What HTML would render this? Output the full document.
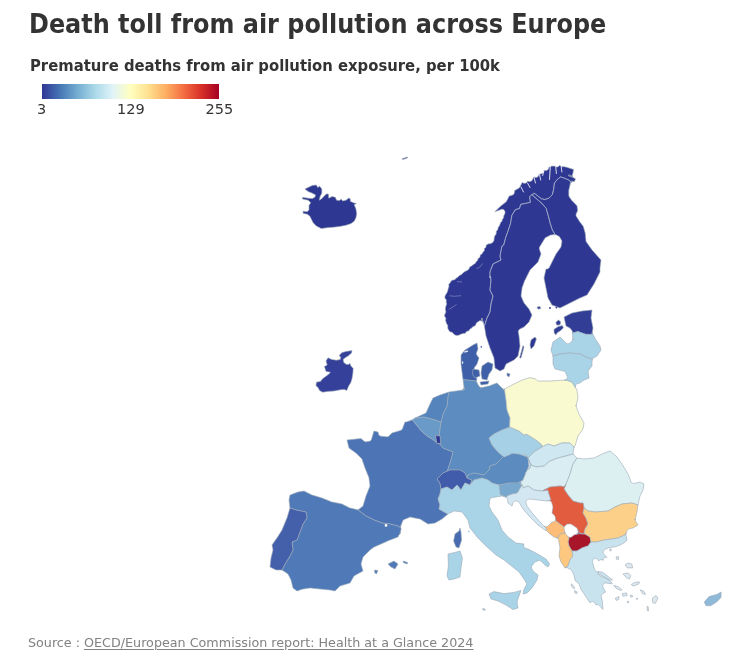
<!DOCTYPE html>
<html lang="en">
<head>
<meta charset="utf-8">
<title>Death toll from air pollution across Europe</title>
<style>
html,body{margin:0;padding:0;background:#fff;}
body{width:730px;height:662px;position:relative;overflow:hidden;font-family:"Liberation Sans","DejaVu Sans",sans-serif;}
.t{position:absolute;white-space:nowrap;line-height:1;transform-origin:0 0;}
#title{left:29px;top:11px;font-size:26px;font-weight:700;color:#333;font-family:"DejaVu Sans","Liberation Sans",sans-serif;transform:scaleX(0.921);}
#sub{left:29.5px;top:58px;font-size:16px;font-weight:700;color:#333;font-family:"DejaVu Sans","Liberation Sans",sans-serif;transform:scaleX(0.927);}
#bar{position:absolute;left:41.5px;top:83.5px;width:177.5px;height:15px;background:linear-gradient(90deg,#313695 0%,#4575b4 10%,#74add1 20%,#abd9e9 30%,#e0f3f8 40%,#ffffbf 50%,#fee090 60%,#fdae61 70%,#f46d43 80%,#d73027 90%,#a50026 100%);}
.lab{font-size:14.5px;color:#333;top:102px;font-family:"DejaVu Sans","Liberation Sans",sans-serif;}
#src{left:28px;top:637px;font-size:12.72px;color:#828282;font-family:"DejaVu Sans","Liberation Sans",sans-serif;}
#src .lnk{color:#828282;text-decoration:underline;text-underline-offset:1.5px;}
#map{position:absolute;left:0;top:0;}
</style>
</head>
<body>
<div id="title" class="t">Death toll from air pollution across Europe</div>
<div id="sub" class="t">Premature deaths from air pollution exposure, per 100k</div>
<div id="bar"></div>
<div id="l1" class="t lab" style="left:37px">3</div>
<div id="l2" class="t lab" style="left:117px">129</div>
<div id="l3" class="t lab" style="left:205.5px">255</div>
<svg id="map" width="730" height="662" viewBox="0 0 730 662">
<!--MAP-->
<defs><filter id="soft" x="-5%" y="-5%" width="110%" height="110%"><feGaussianBlur stdDeviation="0.7"/></filter></defs>
<g filter="url(#soft)" fill-rule="evenodd" stroke="#9daab8" stroke-opacity="0.6" stroke-width="1" stroke-linejoin="round">
<path d="M304.9 189.1L309.0 187.1L312.3 185.4L316.4 185.0L317.7 187.5L319.7 186.2L321.8 189.1L321.8 193.2L320.1 196.5L319.3 200.2L321.4 199.0L323.8 196.5L326.3 194.0L328.4 194.0L328.8 198.2L332.1 196.5L335.3 197.3L336.6 200.2L339.5 200.6L341.1 199.0L342.7 201.0L346.0 200.2L348.5 198.2L350.1 198.6L350.5 201.4L353.4 202.7L356.3 203.5L354.2 204.7L355.9 208.8L356.7 213.8L355.9 217.9L354.2 221.2L351.0 223.6L346.0 225.3L339.5 226.5L332.9 227.3L327.1 227.7L321.4 228.6L316.4 226.1L313.2 222.8L311.5 219.5L309.9 216.2L307.4 214.2L303.3 213.4L302.9 211.3L307.4 211.7L309.0 209.7L309.0 205.5L310.7 202.7L308.2 200.2L302.5 199.0L302.5 197.3L308.2 198.2L312.3 198.6L314.8 197.3L315.6 194.9L312.3 193.2L308.2 191.6Z" fill="#2f3892"/>
<path d="M402.2 158.8L407.4 156.9L407.4 158.0L402.6 159.6Z" fill="#2f3892"/>
<path d="M339.2 355.4L342.0 352.6L346.0 351.4L352.0 350.6L351.6 353.0L348.4 355.8L345.2 357.8L343.2 359.2L343.6 362.2L346.0 364.2L348.4 364.6L350.0 363.4L350.8 365.8L353.2 368.6L352.8 373.8L352.0 378.6L350.8 382.6L348.4 386.6L346.8 390.6L344.4 389.4L340.4 389.8L334.0 391.0L327.6 391.4L322.8 392.2L319.6 390.6L318.0 387.4L316.0 385.8L316.4 382.2L320.4 381.4L322.8 378.6L326.0 376.2L329.2 373.8L330.4 372.2L326.0 371.4L324.4 366.6L327.2 365.0L326.0 361.0L328.0 357.8L331.6 359.4L336.4 360.2L340.2 359.6L340.8 357.4Z" fill="#343f9a"/>
<path d="M468.8 269.1L468.2 269.7L468.0 269.9L467.8 270.1L467.5 270.3L467.3 270.4L466.0 271.0L464.2 271.9L462.8 273.3L462.7 273.3L461.7 274.3L461.5 274.5L461.3 274.7L461.0 274.8L460.7 275.0L459.4 275.5L458.3 276.7L458.1 276.9L457.9 277.1L457.7 277.2L456.3 278.1L455.7 278.8L455.5 279.1L455.3 279.3L455.0 279.4L454.8 279.6L454.5 279.7L454.2 279.8L454.0 279.9L452.8 280.1L451.1 281.1L450.2 282.7L450.0 283.0L449.8 283.2L448.7 284.5L448.9 285.5L448.9 285.8L448.9 286.1L448.9 286.4L448.9 286.6L448.8 286.9L448.7 287.2L448.6 287.5L448.3 288.2L448.0 289.7L448.0 290.0L447.9 290.3L447.3 291.9L447.2 292.1L447.1 292.4L446.2 294.0L446.1 294.1L445.0 296.0L444.9 298.2L445.4 298.7L445.6 298.9L445.8 299.2L446.0 299.4L446.1 299.7L446.2 300.0L446.3 300.3L446.3 300.6L446.3 300.9L446.3 301.2L446.3 301.5L446.1 302.1L446.3 302.5L446.4 302.8L446.5 303.1L446.6 303.4L446.6 303.7L446.6 304.0L446.6 304.3L446.5 304.6L446.4 304.8L446.3 305.1L446.2 305.4L445.9 305.9L445.5 307.9L445.4 309.9L445.7 310.9L445.8 311.1L445.8 311.4L445.8 311.7L445.8 312.0L445.8 312.2L445.7 312.5L445.7 312.8L445.5 313.1L445.4 313.3L445.0 314.0L444.4 316.1L444.8 316.5L445.0 316.7L445.2 316.9L445.3 317.1L445.5 317.4L445.6 317.6L445.7 317.9L445.8 318.2L445.8 318.5L445.8 318.8L445.8 319.1L445.8 319.4L445.7 319.6L445.6 319.9L445.5 320.0L446.0 322.0L446.6 323.7L447.2 324.4L447.3 324.6L447.5 324.9L447.6 325.2L447.7 325.5L447.8 325.8L447.8 326.1L447.8 326.4L447.7 327.2L448.0 329.0L449.0 330.6L450.3 332.0L450.9 332.0L451.2 332.0L451.4 332.1L451.7 332.2L452.0 332.3L452.2 332.4L452.5 332.6L452.7 332.8L452.9 333.0L453.1 333.2L453.3 333.4L453.4 333.7L453.5 333.9L455.0 335.0L457.1 335.5L459.1 335.1L460.7 334.3L460.9 334.2L461.2 334.1L461.4 334.0L462.9 333.6L463.1 333.6L465.3 333.2L465.8 332.4L466.0 332.1L466.2 331.9L466.4 331.7L466.6 331.5L466.9 331.4L467.2 331.2L467.5 331.1L467.8 331.1L468.7 330.9L469.6 329.5L469.8 329.3L470.0 329.0L470.3 328.8L470.5 328.7L471.7 328.0L472.3 327.2L472.5 326.9L472.8 326.7L473.0 326.6L473.3 326.4L473.6 326.3L473.9 326.2L475.0 325.9L476.0 324.0L476.3 323.3L476.4 323.0L476.6 322.8L476.8 322.6L477.0 322.4L477.2 322.2L477.4 322.0L477.7 321.9L478.6 321.4L478.6 321.4L478.6 321.4L478.8 321.2L479.0 321.1L479.3 320.9L479.6 320.8L479.9 320.7L480.2 320.7L480.5 320.7L480.8 320.7L481.1 320.7L481.3 320.8L481.1 320.7L481.9 318.0L483.4 322.8L484.3 325.8L484.4 326.0L487.0 318.0L490.0 312.0L491.0 304.0L493.0 296.0L490.0 290.0L491.0 280.0L490.4 276.0L490.0 278.0L490.0 272.0L493.0 264.0L501.0 260.0L500.0 256.0L502.0 246.0L503.7 245.0L505.8 237.2L507.8 231.7L510.5 223.5L511.9 215.3L515.3 209.8L519.5 208.4L520.8 204.3L524.9 203.6L530.4 202.3L529.7 196.8L531.8 194.7L534.5 193.4L537.9 196.1L541.4 198.8L544.8 199.5L548.9 198.2L552.3 194.7L553.7 189.2L554.4 183.1L557.1 179.7L560.5 176.9L564.7 178.3L568.1 179.7L570.8 181.7L570.1 184.5L570.2 184.2L570.5 183.5L571.5 181.0L574.0 181.7L574.2 181.7L575.6 179.0L573.7 177.8L573.5 177.7L573.3 177.5L573.1 177.3L572.9 177.1L572.7 176.8L572.6 176.6L572.5 176.3L572.4 176.0L572.3 175.8L572.3 175.5L572.3 175.2L572.3 174.9L572.4 174.6L572.4 174.3L572.5 174.0L572.7 173.8L572.8 173.5L572.9 173.5L572.9 173.5L573.6 169.4L566.7 167.3L563.3 166.6L563.3 166.6L563.2 166.7L562.9 166.7L562.6 166.8L562.3 166.8L562.0 166.7L561.8 166.7L561.5 166.6L561.2 166.5L560.9 166.3L560.7 166.2L560.5 166.0L560.3 165.8L560.1 165.6L559.9 165.3L558.7 166.3L558.4 166.5L558.2 166.7L557.9 166.8L557.6 166.9L557.3 167.0L557.0 167.0L556.7 167.1L556.4 167.0L556.2 167.0L555.9 166.9L555.6 166.8L555.3 166.7L555.1 166.6L554.8 166.4L554.6 166.2L554.4 166.0L554.4 166.0L551.0 166.2L548.9 167.3L548.7 168.3L548.6 168.6L548.5 168.8L548.3 169.1L548.2 169.3L548.0 169.6L547.8 169.8L547.6 170.0L547.3 170.1L547.1 170.3L546.8 170.4L546.5 170.5L546.2 170.5L545.9 170.6L545.6 170.6L545.3 170.5L545.0 170.5L544.8 170.4L544.5 170.3L544.2 170.1L544.1 170.1L544.1 170.1L543.7 171.6L543.6 171.9L543.5 172.2L543.4 172.4L543.2 172.7L543.1 172.9L542.9 173.1L542.6 173.3L542.4 173.4L542.2 173.6L541.9 173.7L541.6 173.8L541.3 173.8L541.1 173.9L540.8 173.9L540.5 173.9L540.2 173.8L539.9 173.8L539.7 173.7L539.4 173.5L539.4 173.5L539.3 173.5L538.8 175.3L538.7 175.6L538.6 175.8L538.4 176.1L538.3 176.3L538.0 176.6L537.8 176.8L537.6 176.9L537.3 177.1L537.0 177.2L536.8 177.3L536.5 177.4L536.2 177.4L535.9 177.5L535.6 177.4L535.3 177.4L535.0 177.3L533.8 176.9L532.3 179.9L532.2 180.2L532.0 180.4L531.8 180.7L531.6 180.9L531.4 181.0L531.1 181.2L530.9 181.3L530.6 181.4L530.3 181.5L530.0 181.6L529.7 181.6L529.4 181.6L529.1 181.5L528.8 181.5L528.5 181.4L527.7 181.0L527.2 181.9L527.0 182.1L526.8 182.4L526.6 182.6L526.4 182.7L526.1 182.9L525.9 183.0L525.6 183.2L525.3 183.2L525.0 183.3L524.7 183.3L524.4 183.3L524.1 183.3L523.9 183.2L523.6 183.2L523.3 183.0L523.0 182.9L522.2 182.4L519.9 187.1L519.7 187.3L519.5 187.6L519.4 187.8L519.1 188.0L518.9 188.2L518.7 188.3L514.7 190.6L514.3 192.9L514.2 193.2L514.1 193.4L514.0 193.7L513.8 194.0L513.7 194.2L513.5 194.5L513.2 194.7L513.0 194.9L512.7 195.0L512.4 195.1L512.1 195.2L509.2 196.1L506.7 201.0L506.6 201.2L506.5 201.4L506.3 201.6L506.1 201.8L505.9 202.0L500.3 206.4L494.8 211.8L498.2 210.5L498.2 210.5L501.0 209.4L501.3 209.3L501.6 209.3L501.9 209.2L502.2 209.2L502.4 209.3L502.7 209.3L503.0 209.4L503.3 209.5L503.5 209.6L503.8 209.8L504.0 210.0L504.2 210.2L504.4 210.4L504.6 210.6L504.7 210.9L504.9 211.1L504.9 211.4L505.0 211.7L505.1 212.0L505.1 212.3L505.0 212.6L505.0 212.8L504.8 213.8L504.7 214.1L504.6 214.3L504.5 214.6L504.4 214.8L503.7 215.9L503.7 216.5L503.7 216.8L503.7 217.1L503.6 217.4L503.6 217.7L503.5 218.0L503.3 218.3L503.1 218.5L503.0 218.8L502.7 219.0L502.3 219.4L502.2 220.2L502.2 220.4L502.1 220.7L502.0 221.0L501.9 221.2L501.8 221.5L501.6 221.7L501.4 221.9L501.2 222.1L500.6 222.6L500.1 224.2L499.9 224.5L499.3 225.9L499.1 226.2L498.2 227.6L497.9 229.1L497.8 229.3L497.7 229.6L497.6 229.9L497.4 230.1L497.2 230.4L496.2 231.6L496.3 232.8L496.3 233.1L496.2 233.4L496.2 233.7L496.1 234.0L496.0 234.3L495.9 234.5L495.7 234.8L495.5 235.0L494.8 235.8L494.2 238.1L494.0 240.0L494.0 240.3L493.9 240.5L493.8 240.8L493.7 241.0L493.2 241.8L493.1 242.0L492.9 242.2L492.7 242.5L492.5 242.6L492.3 242.8L492.1 243.0L491.8 243.1L490.8 243.5L490.6 243.6L490.3 243.7L490.1 243.7L488.0 244.0L486.2 245.2L486.1 246.1L486.1 246.4L486.0 246.7L485.9 247.0L485.8 247.2L485.6 247.5L485.5 247.7L485.3 247.9L485.1 248.1L484.4 248.6L484.4 249.5L484.4 249.8L484.4 250.1L484.3 250.4L484.2 250.7L484.1 250.9L483.9 251.2L483.8 251.4L483.6 251.6L483.3 251.9L482.9 252.2L482.4 253.2L482.2 253.5L482.1 253.7L481.9 253.9L481.7 254.1L481.5 254.3L481.3 254.5L480.2 255.1L480.2 255.5L480.2 255.8L480.2 256.1L480.1 256.4L480.0 256.7L479.9 256.9L479.8 257.2L479.6 257.5L479.4 257.7L479.2 257.9L479.0 258.1L478.7 258.3L478.4 258.4L478.2 258.5L478.1 258.5L477.8 259.7L477.7 260.0L477.6 260.2L477.5 260.5L477.4 260.7L477.2 260.9L477.0 261.1L476.8 261.3L476.0 262.0L475.6 262.8L475.4 263.1L475.2 263.4L475.0 263.6L474.8 263.8L474.6 264.0L474.3 264.1L474.0 264.3L473.2 264.6L472.2 265.6L472.0 265.8L471.8 265.9L471.5 266.1L471.3 266.2L469.9 266.8L469.3 268.2L469.2 268.6L469.0 268.8ZM568.1 175.5L569.4 175.0L569.9 175.2L570.2 175.4L570.6 175.6L571.0 175.8L573.4 177.6L572.2 176.9Z" fill="#2f3892"/>
<path d="M544.8 238.4L545.0 238.2L545.2 238.0L545.4 237.8L545.7 237.6L549.8 235.4L550.0 235.3L550.0 235.3L550.3 235.1L550.8 235.1L554.2 234.6L555.1 234.5L552.3 229.7L550.3 223.5L548.2 215.3L546.2 208.4L542.1 203.6L536.6 198.8L531.8 194.7L529.7 196.8L530.4 202.3L524.9 203.6L520.8 204.3L519.5 208.4L515.3 209.8L511.9 215.3L510.5 223.5L507.8 231.7L505.8 237.2L503.7 245.0L502.0 246.0L500.0 256.0L501.0 260.0L493.0 264.0L490.0 272.0L490.0 278.0L490.4 276.0L491.0 280.0L490.0 290.0L493.0 296.0L491.0 304.0L490.0 312.0L487.0 318.0L484.4 326.0L484.3 325.8L484.4 326.2L486.0 336.0L490.0 348.0L493.8 357.6L493.9 357.9L494.0 358.1L494.0 358.4L495.0 368.0L500.0 371.0L504.0 369.0L505.6 365.1L505.7 364.8L505.9 364.5L506.1 364.3L506.3 364.0L506.5 363.8L506.7 363.6L507.0 363.5L514.0 360.0L518.0 356.0L520.0 346.0L519.0 336.0L518.4 332.2L518.3 331.9L518.3 331.6L518.3 331.3L518.4 331.0L518.5 330.7L518.6 330.5L518.7 330.2L518.9 330.0L519.1 329.7L519.3 329.5L519.5 329.3L519.7 329.2L520.0 329.0L524.0 327.0L529.0 322.0L532.0 315.0L529.0 309.0L524.3 303.3L524.1 303.1L524.0 302.9L523.8 302.6L521.3 296.7L521.2 296.4L521.1 296.1L521.1 295.8L521.1 295.5L521.1 295.2L522.0 288.4L522.0 288.0L522.1 287.7L524.9 280.1L525.1 279.9L529.8 270.4L529.9 270.2L530.1 269.9L530.3 269.7L538.0 262.0L541.0 254.0L539.4 249.3L539.4 249.0L539.3 248.7L539.3 248.5L539.3 248.2L539.3 247.9L539.4 247.6L539.5 247.3L539.6 247.1L539.7 246.8L542.0 243.0L544.6 238.7ZM482.4 321.3L482.6 321.5L482.8 321.7L483.0 322.0L483.2 322.2L483.3 322.5L483.4 322.8L481.9 318.0L481.1 320.7L481.3 320.8L481.6 320.9L481.9 321.0L482.2 321.1Z" fill="#2f3892"/>
<path d="M568.8 190.3L570.1 184.7L570.1 184.5L570.2 184.2L570.1 184.5L570.8 181.7L568.1 179.7L564.7 178.3L560.5 176.9L557.1 179.7L554.4 183.1L553.7 189.2L552.3 194.7L548.9 198.2L544.8 199.5L541.4 198.8L537.9 196.1L534.5 193.4L531.8 194.7L536.6 198.8L542.1 203.6L546.2 208.4L548.2 215.3L550.3 223.5L552.3 229.7L555.1 234.5L554.2 234.6L554.5 234.5L554.8 234.5L555.1 234.6L555.3 234.6L555.6 234.7L555.9 234.8L558.3 235.9L558.6 236.0L558.8 236.2L559.1 236.4L559.3 236.6L559.5 236.8L559.7 237.1L561.4 240.1L561.6 240.3L561.7 240.6L561.8 240.9L561.8 241.2L561.9 241.5L561.9 241.8L561.8 242.1L561.1 246.3L561.1 246.6L561.0 246.8L560.9 247.1L560.7 247.3L560.6 247.6L556.0 254.0L553.0 260.0L549.3 267.4L549.2 267.7L549.0 267.9L548.8 268.1L548.6 268.3L548.4 268.5L548.1 268.7L547.9 268.8L547.6 268.9L547.3 269.0L547.0 269.0L546.7 269.1L546.4 269.1L546.1 269.0L546.0 269.0L546.0 269.0L546.0 269.0L544.0 278.0L546.0 288.0L548.0 298.0L552.0 305.0L560.0 308.0L570.0 303.0L579.9 298.0L580.1 298.0L587.0 295.0L594.0 284.0L600.0 272.0L600.0 268.2L600.0 267.8L601.0 260.0L592.1 250.1L591.9 249.8L586.4 242.0L586.3 241.8L586.1 241.5L586.0 241.3L585.9 241.0L585.9 240.7L585.9 240.4L585.9 240.1L585.9 240.0L585.9 239.9L585.9 239.9L585.2 233.1L583.2 226.2L579.1 220.9L579.0 220.6L576.4 216.6L576.3 216.4L576.2 216.1L576.1 215.8L576.0 215.5L576.0 215.2L576.0 215.0L576.0 214.7L576.1 214.4L576.1 214.1L576.2 213.8L577.7 210.5L577.0 205.7L572.4 201.1L572.2 200.9L572.0 200.7L569.3 196.9L569.2 196.6L569.0 196.3L568.9 196.1L568.8 195.8L568.8 195.4L568.8 195.1L568.8 190.9L568.8 190.6ZM569.4 175.0L568.1 175.5L572.2 176.9L573.4 177.6L571.0 175.8L570.6 175.6L570.2 175.4L569.9 175.2ZM571.6 182.1L571.8 182.0L572.1 181.8L572.4 181.7L572.6 181.7L572.9 181.6L573.2 181.6L573.5 181.6L573.8 181.6L574.0 181.7L571.5 181.0L570.5 183.5L570.7 183.2L570.8 182.9L571.0 182.7L571.2 182.5L571.4 182.3Z" fill="#2f3892"/>
<path d="M523.0 345.6L524.0 347.0L521.0 358.0L519.6 358.0Z" fill="#2f3892"/>
<path d="M531.0 340.0L535.0 337.0L536.4 339.0L534.0 346.0L531.0 349.0L530.0 345.0Z" fill="#2f3892"/>
<path d="M537.0 307.0L540.0 306.4L540.8 308.4L538.0 309.2Z" fill="#2f3892"/>
<path d="M572.0 313.0L564.0 317.0L566.0 326.0L569.4 327.7L569.6 327.8L569.8 328.0L570.1 328.2L570.2 328.4L570.4 328.6L571.9 330.5L572.1 330.8L572.2 331.0L572.3 331.3L572.4 331.6L572.5 331.9L572.5 332.2L572.5 332.5L572.4 332.8L572.4 332.9L572.4 333.0L578.0 331.6L586.0 334.4L593.0 334.4L592.9 334.3L592.9 334.3L592.7 334.0L592.6 333.7L592.5 333.5L592.4 333.2L592.3 332.9L592.3 332.6L592.3 332.3L592.3 332.0L592.0 334.0L593.0 328.0L591.0 318.0L592.0 310.0L582.0 311.0Z" fill="#313c95"/>
<path d="M555.8 322.4L558.4 320.1L560.7 321.8L560.1 324.8L556.9 325.3Z" fill="#313c95"/>
<path d="M554.0 329.3L558.4 326.5L562.4 325.6L563.4 327.9L560.4 330.7L557.3 332.7L555.8 335.0L554.1 332.7Z" fill="#313c95"/>
<path d="M476.4 353.9L476.4 353.6L476.4 353.3L476.5 353.0L476.5 352.7L476.6 352.4L478.0 349.0L477.0 343.0L473.0 345.0L465.0 350.0L461.0 355.0L461.0 364.0L462.0 372.0L463.0 379.6L476.0 381.0L476.8 382.4L476.7 382.1L476.6 381.9L476.5 381.6L476.4 381.3L476.4 381.0L476.4 380.7L476.4 380.4L476.5 380.1L476.6 379.8L476.7 379.6L477.0 379.0L475.1 374.3L475.0 374.0L474.9 373.7L474.2 369.3L474.2 369.0L474.2 368.7L474.2 368.4L474.3 368.1L474.3 367.8L474.5 367.5L474.6 367.2L474.8 367.0L477.0 364.0L479.0 358.0L477.0 355.3L476.8 355.1L476.7 354.8L476.6 354.5L476.5 354.2Z" fill="#3f5fa9"/>
<path d="M473.0 369.0L479.0 370.0L480.0 376.0L475.0 378.0L472.4 374.0Z" fill="#3f5fa9"/>
<path d="M482.0 366.0L488.0 362.0L493.0 364.0L492.0 370.0L489.0 374.0L487.0 380.0L482.0 379.0L481.0 373.0Z" fill="#3f5fa9"/>
<path d="M480.0 382.0L489.0 381.0L488.0 384.0L481.0 385.0Z" fill="#3f5fa9"/>
<path d="M507.0 373.0L510.0 374.0L509.0 377.0L507.0 375.6Z" fill="#3f5fa9"/>
<path d="M379.2 435.3L379.0 435.1L378.8 434.8L378.7 434.5L378.6 434.3L378.5 434.0L378.0 432.0L374.0 431.0L371.5 439.2L371.4 439.5L371.3 439.8L371.1 440.0L371.0 440.3L370.8 440.5L370.5 440.7L370.3 440.9L370.0 441.0L369.7 441.1L369.5 441.2L369.2 441.3L366.4 441.8L366.1 441.8L365.8 441.8L365.5 441.8L365.2 441.7L364.9 441.7L364.7 441.6L364.4 441.4L364.2 441.3L363.9 441.1L361.0 438.6L347.0 440.0L349.0 448.0L355.8 452.9L356.0 453.0L356.2 453.2L361.5 458.5L361.7 458.7L361.9 458.9L362.0 459.2L362.1 459.4L362.2 459.7L365.0 468.0L368.9 477.6L368.9 477.9L369.0 478.1L369.0 478.4L369.9 485.2L369.9 485.5L369.9 485.8L369.9 486.1L369.8 486.4L369.7 486.7L366.0 496.0L363.3 505.1L363.2 505.4L363.0 505.7L362.9 505.9L362.7 506.2L362.5 506.4L362.3 506.6L359.2 509.1L358.0 510.0L366.0 516.0L374.0 520.0L382.0 523.0L390.0 524.0L398.0 526.0L400.2 527.5L400.9 525.6L402.6 521.2L402.7 520.9L402.8 520.7L403.0 520.4L403.2 520.2L403.4 520.0L403.6 519.8L403.9 519.6L404.2 519.5L409.1 517.4L409.4 517.3L409.7 517.2L410.0 517.1L410.3 517.1L410.6 517.1L410.9 517.2L419.5 518.9L419.7 519.0L420.0 519.0L420.2 519.2L420.5 519.3L428.0 524.0L435.0 523.0L442.0 519.0L447.7 514.2L448.0 514.0L446.0 513.0L439.0 509.0L440.0 505.0L438.0 499.0L440.0 494.0L441.0 489.0L440.0 483.0L437.0 479.0L443.0 473.0L447.3 471.2L451.0 460.0L453.0 452.0L443.0 448.0L440.0 444.0L438.0 443.3L438.0 443.3L436.8 443.2L436.7 442.8L433.0 439.6L427.0 436.0L421.0 430.6L417.0 425.6L412.4 419.8L412.0 419.9L406.5 421.9L406.2 422.0L406.0 422.0L405.7 422.0L405.4 422.0L405.1 422.0L405.0 422.0L405.0 422.0L405.0 422.0L402.5 428.6L402.4 428.9L402.2 429.2L402.1 429.4L401.9 429.6L401.6 429.8L401.4 430.0L401.1 430.2L400.9 430.3L400.6 430.4L392.0 433.0L389.0 436.0L388.8 436.2L388.6 436.4L388.3 436.5L388.0 436.6L387.7 436.7L387.5 436.8L387.2 436.8L386.9 436.9L386.6 436.8L381.1 436.2L380.8 436.2L380.5 436.1L380.2 436.0L379.9 435.9L379.7 435.7L379.4 435.5ZM400.0 534.0L400.4 531.6L400.5 531.3L400.0 532.3L400.0 534.0Z" fill="#4e75b5"/>
<path d="M455.0 534.0L459.0 531.0L460.0 528.0L461.0 532.0L461.6 540.0L459.0 548.0L456.0 547.0L453.6 541.0Z" fill="#4a6cb0"/>
<path d="M298.0 492.0L290.0 495.0L289.0 500.0L289.9 507.4L290.0 508.0L296.0 510.0L306.0 512.0L307.0 518.0L303.0 524.0L300.0 532.0L297.0 540.0L292.0 542.0L293.0 550.0L290.0 556.0L285.0 564.0L282.0 570.0L282.8 570.5L287.3 573.6L287.6 573.7L287.8 574.0L288.0 574.2L288.2 574.4L288.4 574.7L290.9 579.7L291.0 580.0L291.1 580.3L293.0 588.0L297.0 591.0L302.7 589.1L303.0 589.0L303.3 589.0L309.6 588.1L310.0 588.0L310.4 588.0L320.0 589.0L329.9 590.0L330.1 590.0L335.0 591.0L339.5 586.5L339.7 586.3L339.9 586.2L340.2 586.0L340.4 585.9L340.7 585.8L350.0 583.0L353.6 576.7L353.7 576.5L353.9 576.3L354.1 576.1L354.3 575.9L354.5 575.7L354.7 575.6L363.0 571.0L361.2 564.8L361.2 564.6L361.1 564.3L361.1 564.0L361.1 563.7L361.2 563.4L361.2 563.2L362.8 557.7L362.9 557.5L363.0 557.2L363.2 556.9L363.3 556.7L363.5 556.5L369.8 550.2L370.2 549.9L373.7 547.2L374.0 547.0L374.3 546.9L381.0 544.0L389.9 540.0L390.1 540.0L398.0 537.0L398.7 535.5L398.8 535.2L399.0 534.9L399.1 534.7L399.3 534.5L399.6 534.3L399.8 534.1L399.9 534.0L400.0 534.0L400.0 534.0L400.0 532.3L400.5 531.3L400.4 531.6L400.5 531.3L400.6 530.9L401.0 530.0L401.0 528.0L401.0 528.0L401.0 528.0L400.9 527.7L400.8 527.4L400.7 527.1L400.7 526.8L400.7 526.5L400.7 526.2L400.8 525.9L400.9 525.6L400.2 527.5L398.0 526.0L390.0 524.0L382.0 523.0L374.0 520.0L366.0 516.0L358.0 510.0L359.2 509.1L358.9 509.3L358.6 509.4L358.4 509.5L358.1 509.6L357.8 509.7L357.5 509.7L357.2 509.7L356.9 509.7L356.6 509.6L350.3 508.1L350.0 508.0L349.7 507.9L342.0 504.0L332.3 502.1L332.0 502.0L331.7 501.9L322.0 498.0L312.2 495.1L312.0 495.0L311.8 494.9L304.0 491.0Z" fill="#5079b7"/>
<path d="M287.0 517.9L286.9 518.1L282.1 529.8L282.0 530.0L281.9 530.2L277.0 537.9L276.9 538.1L272.0 545.0L272.9 549.3L272.9 549.6L272.9 549.9L272.9 550.1L272.9 550.4L272.8 550.7L271.0 558.0L270.0 567.0L276.0 570.0L281.1 570.0L281.4 570.0L281.7 570.1L282.0 570.1L282.2 570.2L282.5 570.4L282.8 570.5L282.0 570.0L285.0 564.0L290.0 556.0L293.0 550.0L292.0 542.0L297.0 540.0L300.0 532.0L303.0 524.0L307.0 518.0L306.0 512.0L296.0 510.0L290.0 508.0L289.9 507.4L289.9 507.7L289.9 508.0L289.9 508.3L289.8 508.6Z" fill="#4560ab"/>
<path d="M388.0 564.0L394.0 561.0L398.0 564.0L395.0 569.0L391.0 567.0Z" fill="#5079b7"/>
<path d="M403.0 561.0L407.6 562.4L407.2 564.0L403.6 562.8Z" fill="#5079b7"/>
<path d="M374.4 570.0L378.0 570.6L376.4 574.0L374.8 572.8Z" fill="#5079b7"/>
<path d="M463.0 379.6L464.4 390.0L460.0 390.4L449.0 392.0L448.0 396.0L447.0 406.0L443.0 414.0L441.0 422.0L440.0 428.0L439.1 435.9L440.0 436.0L440.6 443.6L439.9 443.5L440.0 444.0L443.0 448.0L453.0 452.0L451.0 460.0L447.3 471.2L450.0 470.0L460.0 470.0L465.0 473.0L467.0 478.0L468.0 475.0L474.0 473.0L484.0 475.0L489.0 470.0L490.0 466.0L496.0 464.0L503.5 456.5L504.0 457.0L498.0 452.0L492.0 445.0L489.0 438.0L494.0 434.0L502.0 430.0L509.8 427.1L509.6 427.0L510.0 418.0L507.0 410.0L506.7 406.7L506.4 406.0L506.5 404.9L506.0 400.0L504.6 390.6L502.0 388.0L501.9 387.9L497.0 383.0L489.2 385.9L488.8 386.0L480.0 388.0L482.2 387.5L481.9 387.6L481.6 387.6L481.3 387.6L481.0 387.5L480.7 387.5L480.4 387.4L480.2 387.3L479.9 387.1L479.7 387.0L479.4 386.8L479.2 386.6L479.1 386.3L478.9 386.1L476.8 382.4L476.7 382.1L476.8 382.4L476.0 381.0ZM463.7 388.7L463.5 388.9L463.4 389.2L463.2 389.4L462.9 389.6L462.7 389.8L462.4 389.9L462.2 390.1L461.9 390.2L461.6 390.2L461.3 390.3L464.4 390.0L464.0 386.9L464.0 387.2L464.0 387.5L464.0 387.8L463.9 388.1L463.8 388.4Z" fill="#5b8cc0"/>
<path d="M424.0 417.0L432.0 419.0L441.0 422.0L443.0 414.0L447.0 406.0L448.0 396.0L449.0 392.0L440.0 395.0L433.0 398.0L430.0 404.0L426.0 413.0L415.0 418.0Z" fill="#5484bc"/>
<path d="M427.0 436.0L433.0 439.6L436.7 442.8L435.6 435.6L439.1 435.9L440.0 428.0L441.0 422.0L432.0 419.0L424.0 417.0L415.0 418.0L412.4 419.8L417.0 425.6L421.0 430.6Z" fill="#6b9bc8"/>
<path d="M440.0 436.0L435.6 435.6L436.8 443.2L439.7 443.5L438.0 443.3L440.0 444.0L439.9 443.5L440.6 443.6Z" fill="#2f3892"/>
<path d="M465.0 473.0L460.0 470.0L450.0 470.0L443.0 473.0L437.0 479.0L440.0 483.0L441.0 489.0L447.0 487.0L452.0 490.0L457.0 485.0L461.0 490.0L465.0 483.0L470.0 485.0L470.2 484.5L472.0 480.0L467.0 478.0Z" fill="#3f5baa"/>
<path d="M496.0 464.0L490.0 466.0L489.0 470.0L484.0 475.0L474.0 473.0L468.0 475.0L467.0 478.0L472.0 480.0L470.2 484.5L470.4 484.5L474.0 480.0L482.0 478.0L488.0 480.0L492.0 483.0L499.0 485.0L510.0 483.0L518.0 483.0L522.9 480.1L520.1 481.8L523.0 480.0L525.1 475.0L526.0 472.0L526.8 471.2L527.9 468.6L529.0 466.0L528.1 458.4L528.1 458.3L528.0 458.0L527.1 456.7L519.0 454.0L511.8 453.2L511.0 454.0L504.0 457.0L503.5 456.5Z" fill="#5c8bc0"/>
<path d="M502.0 430.0L494.0 434.0L489.0 438.0L492.0 445.0L498.0 452.0L504.0 457.0L511.0 454.0L511.8 453.2L519.0 454.0L527.1 456.7L523.8 455.6L524.0 455.3L524.3 455.0L524.4 454.8L526.0 455.0L528.0 458.0L534.0 452.0L542.0 447.0L541.5 445.4L541.5 445.4L541.0 444.0L536.0 440.0L528.0 435.0L526.7 434.3L524.0 435.0L519.0 431.0L512.0 428.0L509.8 427.1Z" fill="#a6d0e5"/>
<path d="M537.2 380.5L536.9 380.3L536.7 380.1L536.5 379.9L536.3 379.6L536.2 379.3L536.0 379.0L530.0 377.6L522.0 380.0L512.0 385.0L505.4 388.5L505.2 388.6L504.9 388.7L504.6 388.7L504.3 388.8L504.0 388.8L503.7 388.8L503.4 388.7L503.2 388.7L502.9 388.6L502.6 388.4L502.4 388.3L502.1 388.1L501.9 387.9L502.0 388.0L504.6 390.6L504.4 389.0L506.0 400.0L506.5 404.9L506.4 406.0L506.7 406.7L507.0 410.0L510.0 418.0L509.6 427.0L512.0 428.0L519.0 431.0L524.0 435.0L526.7 434.3L528.0 435.0L536.0 440.0L541.0 444.0L541.5 445.4L543.1 446.5L548.0 444.0L554.0 446.0L562.0 443.0L570.0 443.0L574.0 447.0L573.9 447.9L573.9 447.7L574.0 447.4L574.1 447.1L574.2 446.9L574.4 446.6L574.6 446.4L574.8 446.2L575.0 446.0L575.0 446.0L575.0 446.0L578.0 436.0L583.0 429.0L584.0 423.0L579.1 414.2L579.0 414.0L578.9 413.8L576.3 406.9L576.2 406.6L576.2 406.3L576.1 406.0L576.1 405.7L576.2 405.4L576.2 405.1L576.0 406.0L578.0 398.0L577.0 390.0L572.0 382.0L566.0 380.0L564.5 380.1L564.8 380.1L564.5 380.1L550.1 381.0L549.9 381.0L538.9 381.0L538.6 381.0L538.3 380.9L538.0 380.9L537.7 380.8L537.4 380.6Z" fill="#f9fad0"/>
<path d="M572.4 333.0L572.4 333.0L573.0 340.0L572.9 338.6L572.9 338.9L572.9 339.2L572.8 339.5L572.8 339.8L572.7 340.0L572.5 340.3L572.4 340.5L572.2 340.8L572.0 341.0L570.1 342.9L569.9 343.1L569.7 343.3L569.4 343.4L569.1 343.5L568.9 343.6L568.6 343.7L568.3 343.7L568.0 343.8L567.7 343.7L567.4 343.7L567.1 343.6L566.9 343.5L566.6 343.4L566.3 343.3L566.1 343.1L565.9 342.9L560.0 337.0L553.0 342.0L551.0 350.0L552.8 355.5L552.9 355.8L553.0 356.2L553.0 356.5L553.0 356.0L560.0 354.0L570.0 353.0L580.0 354.0L586.0 357.0L592.0 359.0L592.0 360.7L592.0 360.4L592.1 360.1L592.1 359.8L592.3 359.5L592.4 359.2L592.6 359.0L592.7 358.7L593.0 358.5L593.2 358.3L593.5 358.1L597.0 356.0L601.0 350.0L600.0 346.0L596.1 340.1L595.9 339.9L593.0 334.4L593.0 334.4L586.0 334.4L578.0 331.6L572.4 333.0L572.4 332.9Z" fill="#a9d3e6"/>
<path d="M555.0 369.0L563.6 371.1L563.9 371.1L564.1 371.3L564.4 371.4L564.7 371.6L564.9 371.8L565.1 372.0L565.3 372.2L565.5 372.5L565.6 372.7L567.0 375.9L567.1 376.1L567.2 376.4L567.3 376.7L567.3 377.0L567.3 377.3L567.3 377.6L567.2 377.8L567.1 378.1L567.0 378.4L566.9 378.6L566.7 378.9L566.5 379.1L566.3 379.3L566.1 379.5L565.9 379.7L565.6 379.8L565.3 379.9L565.1 380.0L564.8 380.1L564.5 380.1L566.0 380.0L572.0 382.0L575.4 387.5L575.5 387.5L575.5 387.3L575.4 387.0L575.4 386.7L575.4 386.4L575.4 386.1L575.5 385.8L575.5 385.5L575.7 385.3L575.8 385.0L576.0 384.7L576.2 384.5L576.4 384.3L576.6 384.1L576.9 383.9L577.1 383.8L577.4 383.7L577.7 383.6L578.0 383.6L578.3 383.5L578.6 383.5L578.9 383.6L579.0 383.6L579.0 383.6L583.7 380.2L584.0 380.0L584.3 379.9L589.0 378.0L588.2 372.3L588.2 372.0L588.2 371.7L588.2 371.4L588.3 371.1L588.4 370.8L588.5 370.5L588.6 370.2L588.8 370.0L592.0 366.0L592.0 360.7L592.0 359.0L586.0 357.0L580.0 354.0L570.0 353.0L560.0 354.0L553.0 356.0L553.0 356.5L553.0 364.0Z" fill="#a9d3e6"/>
<path d="M542.0 447.0L534.0 452.0L528.0 458.0L531.0 465.0L536.0 467.0L544.0 466.0L550.0 461.0L558.0 458.0L566.0 456.0L573.0 454.0L573.6 454.6L573.6 454.6L573.7 454.6L573.5 454.3L573.4 454.0L573.3 453.7L573.2 453.4L573.2 453.1L573.2 452.8L573.2 452.5L573.9 447.9L573.9 447.7L573.9 447.9L574.0 447.0L570.0 443.0L562.0 443.0L554.0 446.0L548.0 444.0L543.1 446.5L541.5 445.4ZM526.0 455.0L524.4 454.8L524.3 455.0L524.0 455.3L523.8 455.6L527.1 456.7ZM531.0 465.0L528.1 458.4L529.0 466.0L527.9 468.6L528.0 468.7L528.4 469.0L528.8 469.2L530.0 468.0Z" fill="#cfe7f0"/>
<path d="M566.0 456.0L558.0 458.0L550.0 461.0L544.0 466.0L536.0 467.0L531.0 465.0L530.0 468.0L528.8 469.2L528.4 469.0L528.0 468.7L527.9 468.6L526.8 471.2L526.0 472.0L525.1 475.0L523.0 480.0L520.1 481.8L521.9 484.9L522.0 485.0L522.0 485.1L523.5 487.8L528.0 486.0L534.0 490.0L542.0 491.0L543.3 490.8L543.3 490.7L543.2 490.4L550.0 487.0L560.0 486.0L564.4 486.8L565.7 484.4L567.0 482.0L570.0 474.0L573.0 464.0L577.0 458.0L576.3 457.3L574.1 455.1L573.6 454.6L573.0 454.0Z" fill="#d9edf2"/>
<path d="M594.0 458.0L593.7 458.0L593.5 458.1L584.0 459.0L577.0 458.0L573.0 464.0L570.0 474.0L567.0 482.0L565.7 484.4L565.9 484.5L564.0 489.0L568.0 495.0L573.0 501.0L580.0 503.0L583.0 503.0L584.0 508.0L588.0 511.0L596.0 512.0L608.0 511.0L615.0 507.0L622.0 504.0L632.0 503.0L638.0 505.0L638.0 504.9L639.9 496.4L640.0 496.0L640.2 495.7L643.0 490.0L644.0 484.0L640.0 482.0L634.5 483.4L634.3 483.4L634.0 483.5L633.7 483.5L633.4 483.4L633.1 483.4L632.8 483.3L632.6 483.2L632.3 483.1L632.1 482.9L631.9 482.7L631.6 482.5L631.5 482.3L631.3 482.1L631.1 481.8L631.0 481.6L628.0 474.0L622.0 464.0L616.0 456.0L610.0 451.0L602.0 454.0L594.5 457.8L594.2 457.9Z" fill="#dceff1"/>
<path d="M518.0 483.0L510.0 483.0L499.0 485.0L500.0 494.0L502.0 496.0L502.0 496.0L502.3 496.0L502.2 496.0L502.2 495.8L502.2 495.3L504.0 496.4L503.7 496.3L504.0 496.4L505.0 497.0L505.0 497.0L506.6 496.8L507.1 496.7L507.0 496.0L512.0 494.0L516.3 493.4L518.0 492.0L522.0 485.0L521.9 484.9L520.2 484.1L520.3 484.0L520.8 483.8L521.1 483.6L520.1 481.8L522.9 480.1Z" fill="#79a8cf"/>
<path d="M465.0 483.0L461.0 490.0L457.0 485.0L452.0 490.0L447.0 487.0L441.0 489.0L440.0 494.0L438.0 499.0L440.0 505.0L439.0 509.0L446.0 513.0L448.0 514.0L447.7 514.2L448.0 514.0L448.3 513.8L453.2 511.4L453.5 511.3L453.7 511.2L454.0 511.1L454.3 511.1L454.6 511.1L454.9 511.1L460.7 511.8L461.0 511.9L461.3 512.0L461.6 512.1L461.9 512.2L462.1 512.4L462.4 512.6L462.6 512.8L462.8 513.0L467.6 519.5L467.8 519.8L467.9 520.0L468.1 520.3L468.1 520.6L470.0 528.0L478.0 538.0L486.0 546.0L496.0 555.0L503.9 559.9L504.1 560.1L514.0 568.0L518.7 571.7L518.9 571.9L519.1 572.1L519.2 572.3L523.9 578.9L524.1 579.1L526.1 582.5L526.2 582.7L526.3 583.0L526.4 583.3L526.5 583.6L526.5 583.9L526.5 584.1L526.5 584.4L526.4 584.7L526.3 585.0L526.2 585.3L526.1 585.5L524.0 589.0L523.0 594.0L527.0 593.0L532.0 588.0L537.0 580.0L538.0 575.0L533.5 571.4L533.3 571.2L533.1 571.0L532.9 570.7L532.7 570.4L531.9 568.7L531.7 568.5L531.7 568.2L531.6 567.9L531.6 567.6L531.5 567.3L531.6 567.1L531.6 566.8L531.7 566.5L531.8 566.2L531.9 566.0L532.0 565.7L532.2 565.5L534.5 562.6L534.7 562.4L534.9 562.2L535.2 562.0L535.5 561.8L535.7 561.7L538.2 560.7L538.4 560.6L538.7 560.6L539.0 560.5L539.3 560.5L539.6 560.5L539.9 560.6L540.2 560.7L540.4 560.8L540.7 560.9L540.9 561.0L541.2 561.2L541.4 561.4L545.0 565.0L548.0 567.0L549.6 564.0L546.0 559.0L536.0 553.0L528.0 549.0L525.7 548.2L525.4 548.1L525.2 548.0L524.9 547.8L524.7 547.6L524.5 547.4L524.3 547.2L524.1 547.0L524.0 546.7L523.8 546.4L523.8 546.1L523.7 545.9L523.7 545.6L523.7 545.3L523.7 545.0L523.7 544.7L523.8 544.4L523.9 544.1L524.0 544.0L524.0 544.0L516.8 543.1L516.5 543.0L516.2 543.0L515.9 542.8L515.6 542.7L515.4 542.5L508.3 537.2L508.0 537.0L507.8 536.7L502.3 530.4L502.1 530.1L502.0 529.8L501.8 529.5L498.0 520.0L492.2 512.2L492.0 512.0L491.9 511.8L489.4 506.8L489.3 506.5L489.2 506.3L489.1 506.0L489.1 505.7L489.1 505.4L489.1 505.1L489.7 500.2L489.8 499.9L489.9 499.6L490.0 499.4L490.1 499.1L490.3 498.9L490.4 498.6L490.6 498.4L490.9 498.2L491.1 498.0L491.4 497.9L491.6 497.8L491.9 497.7L492.2 497.6L496.0 497.0L502.0 496.0L502.0 496.0L500.0 494.0L499.0 485.0L492.0 483.0L488.0 480.0L482.0 478.0L474.0 480.0L470.4 484.5L470.2 484.5L470.0 485.0Z" fill="#a9d3e6"/>
<path d="M489.0 594.0L494.0 591.6L504.0 593.6L514.0 592.4L521.0 590.4L519.0 596.0L517.0 602.0L518.0 608.0L513.0 609.6L506.0 605.0L498.0 601.0L491.0 599.0Z" fill="#a9d3e6"/>
<path d="M448.0 554.0L455.0 552.4L460.0 551.0L462.4 558.0L461.0 568.0L460.0 577.0L454.0 579.0L449.0 580.0L447.0 576.0L448.4 566.0Z" fill="#a9d3e6"/>
<path d="M482.6 608.6L485.0 609.0L485.2 610.2L483.0 610.0Z" fill="#a9d3e6"/>
<path d="M521.9 484.9L521.1 483.6L520.8 483.8L520.3 484.0L520.2 484.1ZM518.0 492.0L516.3 493.4L512.0 494.0L507.0 496.0L507.1 496.7L505.0 497.0L505.1 497.0L505.1 497.0L505.2 497.0L505.5 497.1L505.7 497.2L506.0 497.4L506.3 497.5L506.5 497.7L506.7 497.9L506.9 498.2L507.1 498.4L507.2 498.7L507.4 499.0L507.4 499.2L507.5 499.5L508.0 503.0L512.0 506.0L513.0 503.0L513.1 502.8L513.2 502.5L513.4 502.3L513.6 502.0L513.8 501.8L514.0 501.6L514.2 501.5L514.4 501.3L514.7 501.2L515.0 501.1L515.3 501.0L515.5 501.0L515.8 501.0L516.1 501.0L516.4 501.0L516.7 501.1L517.0 501.2L518.0 501.6L518.3 501.7L518.5 501.9L518.8 502.0L519.0 502.2L519.2 502.4L519.4 502.7L519.5 502.9L523.0 509.0L530.0 517.0L538.0 525.0L545.6 530.4L545.6 530.4L547.0 529.0L543.9 525.9L540.1 522.1L539.9 521.9L533.1 514.1L532.9 513.9L527.3 506.4L527.1 506.1L527.0 505.8L526.8 505.5L526.1 503.2L526.0 502.9L525.9 502.6L525.9 502.3L525.9 502.0L526.0 501.7L526.0 501.5L526.1 501.2L526.3 500.9L526.4 500.6L526.6 500.4L526.8 500.2L527.0 500.0L527.2 499.8L527.5 499.6L527.8 499.5L528.0 499.4L528.3 499.3L529.5 499.1L529.8 499.0L530.2 499.0L530.5 499.1L538.0 500.0L547.0 501.0L548.2 500.7L551.0 500.0L549.0 494.0L548.0 490.1L543.3 490.8L542.0 491.0L534.0 490.0L528.0 486.0L523.5 487.8L522.0 485.1L522.0 485.0ZM503.2 496.1L503.4 496.1L503.7 496.3L504.0 496.4L502.2 495.3L502.2 495.8L502.2 496.0L502.3 496.0L502.6 496.0L502.9 496.0Z" fill="#d2e7f1"/>
<path d="M543.2 490.4L543.3 490.7L543.3 490.8L548.0 490.1L549.0 494.0L551.0 500.0L548.2 500.7L548.5 500.6L548.8 500.6L549.0 500.6L549.3 500.6L549.6 500.7L549.9 500.8L550.2 500.9L550.4 501.0L550.7 501.2L550.9 501.4L551.1 501.6L551.3 501.8L551.4 502.0L551.6 502.3L551.7 502.5L551.8 502.8L552.8 506.3L552.9 506.6L552.9 506.9L552.9 507.1L552.9 507.4L552.9 507.7L552.0 513.0L554.4 515.4L554.6 515.6L554.7 515.8L554.9 516.1L555.0 516.3L555.1 516.6L555.2 516.9L555.5 518.4L556.0 521.0L560.0 524.0L564.0 527.0L565.0 526.0L566.1 524.9L566.9 524.1L566.9 524.2L567.0 524.3L567.1 524.2L567.4 524.1L567.7 524.1L567.9 524.0L568.2 524.0L570.1 524.0L570.4 524.0L570.7 524.1L571.0 524.1L571.2 524.2L571.5 524.4L571.8 524.5L576.2 527.5L576.5 527.7L576.7 527.9L576.9 528.1L577.1 528.3L577.2 528.6L577.3 528.9L578.0 530.4L579.0 533.0L583.5 533.9L583.5 533.9L584.0 533.9L585.0 529.0L588.0 524.0L586.0 518.0L583.0 513.0L584.0 508.0L583.0 503.0L580.0 503.0L573.0 501.0L568.0 495.0L564.0 489.0L565.9 484.5L565.7 484.4L564.4 486.8L560.0 486.0L550.0 487.0Z" fill="#e25c40"/>
<path d="M578.2 531.9L578.1 532.2L578.0 532.5L577.9 532.7L577.8 533.0L577.7 533.3L577.5 533.5L577.3 533.7L577.0 533.9L576.8 534.1L576.5 534.2L576.3 534.3L576.0 534.4L579.0 533.6L583.5 533.9L579.0 533.0L578.0 530.4L578.1 530.7L578.1 531.0L578.2 531.3L578.2 531.6ZM570.2 537.4L569.9 537.4L569.6 537.4L569.3 537.3L569.0 537.3L568.8 537.2L568.5 537.0L568.3 536.9L568.0 536.7L567.8 536.5L567.6 536.3L569.0 538.0L568.0 542.0L569.0 546.0L572.0 551.0L577.0 551.0L582.0 548.0L587.6 546.1L588.2 545.8L591.0 542.0L590.0 537.0L585.0 534.0L579.0 533.6L574.0 535.0L571.8 536.7L571.6 536.9L571.3 537.1L571.1 537.2L570.8 537.3L570.5 537.3Z" fill="#a8172b"/>
<path d="M564.4 526.7L564.6 526.5L564.8 526.2L565.0 526.0L564.0 527.0L560.0 524.0L556.0 521.0L555.5 518.4L555.5 518.7L555.5 519.0L555.5 519.3L555.5 519.6L555.4 519.9L555.3 520.1L555.2 520.4L555.0 520.7L554.9 520.9L554.7 521.1L554.4 521.3L554.2 521.5L554.0 521.6L553.7 521.8L553.4 521.9L553.1 521.9L552.8 522.0L552.5 522.0L552.0 522.0L548.1 525.9L547.9 526.1L547.7 526.3L547.4 526.4L547.1 526.5L546.9 526.6L546.6 526.7L546.3 526.7L546.0 526.8L545.7 526.7L545.4 526.7L545.1 526.6L544.9 526.5L544.6 526.4L544.3 526.3L544.1 526.1L543.9 525.9L547.0 529.0L545.6 530.4L545.6 530.4L545.9 530.5L546.2 530.6L546.5 530.7L546.8 530.8L547.0 531.0L547.2 531.2L550.0 534.0L554.0 537.0L556.3 537.6L558.0 538.0L560.0 534.0L565.0 533.0L564.9 532.3L564.1 528.7L564.1 528.3L564.1 528.3L564.1 528.2L564.1 527.9L564.1 527.6L564.2 527.3L564.3 527.0Z" fill="#fdbd78"/>
<path d="M565.0 533.0L560.0 534.0L558.0 538.0L556.3 537.6L556.5 537.6L556.8 537.8L557.1 537.9L557.3 538.1L557.5 538.3L557.7 538.5L557.9 538.7L558.1 538.9L558.2 539.2L558.4 539.5L558.4 539.7L559.0 541.9L559.0 542.1L559.9 547.6L560.0 547.9L560.0 548.1L559.9 548.4L559.0 556.0L561.0 562.0L565.0 568.0L565.0 568.0L565.0 568.0L568.0 566.0L570.0 560.0L573.0 556.0L572.0 551.0L569.0 546.0L568.0 542.0L569.0 538.0L567.6 536.3L565.5 533.6L565.3 533.3L565.1 533.1L565.0 532.8L564.9 532.6L564.9 532.3Z" fill="#fdc77f"/>
<path d="M632.0 503.0L622.0 504.0L615.0 507.0L608.0 511.0L596.0 512.0L588.0 511.0L584.0 508.0L583.0 513.0L586.0 518.0L588.0 524.0L585.0 529.0L584.0 533.9L585.0 534.0L590.0 537.0L591.0 542.0L597.0 542.0L604.0 540.0L612.0 539.0L618.0 538.0L625.0 535.0L626.2 532.7L627.3 530.3L627.5 530.0L627.7 529.8L627.9 529.6L628.1 529.4L628.3 529.2L628.6 529.0L628.9 528.9L629.1 528.8L629.4 528.7L633.0 528.0L638.0 525.0L635.6 521.1L635.5 520.8L635.4 520.5L635.3 520.3L635.2 520.0L635.2 519.7L635.2 519.4L635.2 519.1L635.3 518.8L635.0 520.0L637.0 512.0L638.0 505.1L638.0 504.9L638.0 505.0Z" fill="#fdd08a"/>
<path d="M577.0 551.0L572.0 551.0L573.0 556.0L570.0 560.0L568.0 566.0L565.0 568.0L565.1 568.0L565.2 567.9L565.5 567.8L565.7 567.7L566.0 567.6L566.3 567.6L566.6 567.6L566.9 567.6L567.2 567.7L567.5 567.8L567.7 567.9L568.0 568.0L568.2 568.2L568.5 568.4L568.7 568.6L568.9 568.8L569.0 569.0L569.0 569.0L569.0 569.0L569.0 569.0L569.0 569.0L569.1 569.0L569.4 569.0L569.7 569.1L570.0 569.1L570.3 569.3L570.5 569.4L570.8 569.5L571.0 569.7L571.2 569.9L571.4 570.2L571.6 570.4L571.7 570.7L573.6 574.4L573.8 574.7L573.9 575.1L575.3 580.8L578.4 583.3L578.6 583.4L578.8 583.7L579.0 583.9L579.1 584.1L579.2 584.4L579.3 584.6L580.9 589.1L583.9 593.6L586.9 598.2L589.9 602.7L590.7 602.2L591.0 602.0L591.2 601.9L591.5 601.8L591.8 601.7L592.1 601.7L592.4 601.7L592.7 601.7L592.9 601.7L593.2 601.8L593.5 601.9L593.8 602.0L594.0 602.2L594.2 602.3L594.5 602.5L594.7 602.7L594.8 603.0L595.0 603.2L596.0 605.0L596.0 604.9L596.1 604.9L596.1 604.9L596.4 604.8L596.7 604.7L597.0 604.6L597.3 604.6L597.6 604.6L597.9 604.6L598.1 604.7L598.4 604.8L598.7 604.9L599.0 605.0L599.2 605.2L599.4 605.4L599.6 605.6L599.8 605.8L600.0 606.0L600.1 606.3L600.2 606.4L600.2 606.4L600.2 606.5L602.9 609.5L602.5 602.7L601.4 596.6L601.3 596.3L601.3 596.0L601.3 595.7L601.4 595.4L601.5 595.1L601.6 594.9L601.7 594.6L601.9 594.3L602.0 594.1L602.3 593.9L602.5 593.7L602.7 593.5L603.0 593.4L605.5 592.1L603.1 587.3L603.0 587.1L602.9 586.8L602.8 586.5L602.8 586.2L602.8 585.9L602.8 585.6L602.9 585.3L602.9 585.1L603.0 584.8L603.1 584.7L603.2 584.5L603.3 584.2L603.5 584.0L603.7 583.8L603.9 583.6L604.1 583.5L604.4 583.3L604.6 583.2L604.9 583.1L605.2 583.0L605.4 583.0L605.7 582.9L606.0 582.9L606.3 583.0L608.5 583.4L612.3 583.8L610.8 581.5L606.3 578.5L600.2 576.0L600.1 575.9L600.1 575.9L599.8 575.8L599.6 575.7L599.3 575.6L599.0 575.4L598.8 575.2L598.6 575.0L598.4 574.7L598.3 574.5L598.1 574.2L598.0 573.9L597.9 573.6L597.9 573.3L597.9 573.0L597.9 572.7L597.9 572.5L597.9 572.5L597.9 572.5L595.7 570.8L595.4 570.6L595.2 570.4L595.0 570.1L594.9 569.9L594.7 569.6L594.6 569.3L593.5 565.8L593.4 565.6L592.6 562.3L592.5 562.0L592.5 561.7L592.5 561.4L592.5 561.1L592.6 560.8L592.7 560.5L592.8 560.2L592.9 560.0L593.1 559.7L593.3 559.5L593.5 559.3L593.7 559.1L594.0 559.0L594.2 558.8L594.5 558.7L594.8 558.6L595.1 558.6L595.4 558.5L595.7 558.6L596.0 558.6L596.2 558.6L596.5 558.7L596.8 558.9L597.1 559.0L597.3 559.2L597.5 559.4L597.7 559.6L597.9 559.8L598.1 560.1L598.7 561.1L598.7 561.1L598.7 561.1L598.8 561.0L599.0 560.7L599.2 560.5L599.4 560.3L599.7 560.1L599.9 560.0L600.2 559.9L600.5 559.8L600.8 559.7L601.1 559.7L601.4 559.7L601.7 559.7L602.0 559.8L602.3 559.8L602.6 560.0L602.8 560.1L603.1 560.3L603.2 560.3L603.2 560.4L603.2 560.4L603.2 560.4L603.2 560.3L603.2 560.0L603.3 559.7L603.3 559.5L603.4 559.2L603.6 558.9L603.7 558.6L603.9 558.4L604.1 558.2L604.3 558.0L604.5 557.8L604.8 557.6L605.0 557.5L605.3 557.4L605.6 557.3L605.9 557.3L606.2 557.3L606.5 557.3L606.7 557.3L607.0 557.4L607.0 557.4L604.1 554.4L603.9 554.2L603.7 554.0L603.5 553.7L603.4 553.4L603.3 553.1L603.2 552.8L603.2 552.5L603.2 552.2L603.2 551.9L603.3 551.6L603.3 551.3L603.4 551.1L603.6 550.8L603.7 550.5L603.9 550.3L604.1 550.1L604.4 549.9L605.2 549.3L605.4 549.2L605.6 549.0L605.9 548.9L608.9 547.7L609.2 547.6L609.4 547.5L609.7 547.5L615.3 546.8L621.4 544.5L621.3 544.5L621.4 544.5L621.4 544.5L621.5 544.3L621.7 544.1L621.9 543.9L622.1 543.8L622.4 543.6L622.6 543.5L622.9 543.4L624.0 543.0L627.0 540.0L626.0 535.0L626.0 535.0L626.0 535.0L625.9 534.8L625.9 534.5L625.8 534.2L625.8 533.9L625.9 533.6L625.9 533.3L626.0 533.0L626.2 532.7L625.0 535.0L618.0 538.0L612.0 539.0L604.0 540.0L597.0 542.0L591.0 542.0L588.2 545.8L587.6 546.1L582.0 548.0Z" fill="#c9e3ee"/>
<path d="M597.9 571.4L602.5 572.2L608.5 576.7L612.6 580.0L609.3 579.9L604.0 576.7L598.7 574.1Z" fill="#c9e3ee"/>
<path d="M625.1 564.9L628.2 563.0L631.9 564.2L632.7 567.9L627.4 567.9Z" fill="#dde8ee"/>
<path d="M622.9 574.0L628.2 572.9L630.7 575.5L629.7 579.0L626.6 577.8Z" fill="#dde8ee"/>
<path d="M631.2 584.6L635.0 582.3L639.5 582.0L638.7 584.1L633.4 586.1Z" fill="#dde8ee"/>
<path d="M652.3 598.2L656.1 595.6L657.9 598.2L655.3 603.4L652.8 602.7Z" fill="#dde8ee"/>
<path d="M647.0 606.5L648.2 606.5L648.5 611.0L647.3 610.7Z" fill="#dde8ee"/>
<path d="M616.1 556.9L618.6 556.6L618.6 559.3L616.5 559.3Z" fill="#dde8ee"/>
<path d="M622.1 593.6L626.6 592.9L627.1 595.6L622.9 596.2Z" fill="#dde8ee"/>
<path d="M613.8 585.3L618.3 586.8L622.1 589.8L620.6 590.6L616.1 588.3Z" fill="#dde8ee"/>
<path d="M615.3 598.2L619.1 596.6L618.6 599.7L616.1 600.4Z" fill="#dde8ee"/>
<path d="M640.2 589.8L644.0 591.4L645.5 594.4L642.5 593.6Z" fill="#dde8ee"/>
<path d="M636.5 598.2L637.7 598.2L637.4 599.4L636.2 599.2Z" fill="#dde8ee"/>
<path d="M630.4 595.1L632.7 595.6L632.2 597.1L630.4 596.8Z" fill="#dde8ee"/>
<path d="M609.6 549.1L611.1 548.8L611.1 550.9L609.9 550.9Z" fill="#dde8ee"/>
<path d="M627.1 601.6L628.6 601.3L628.6 602.8L627.4 602.8Z" fill="#dde8ee"/>
<path d="M571.2 583.8L573.0 585.3L574.8 588.6L573.3 588.3L571.5 586.1Z" fill="#dde8ee"/>
<path d="M574.5 590.6L577.3 592.1L576.8 593.6L574.8 592.9Z" fill="#dde8ee"/>
<path d="M704.3 602.0L709.0 596.6L716.7 594.4L721.2 592.0L721.0 597.4L716.7 602.0L710.6 605.7L706.0 605.7Z" fill="#8fb9d8"/>
<circle cx="386" cy="525.4" r="1.3" fill="#fff" stroke="none"/><path d="M449.5 295.8 L455 296.3 L461 295.6 M448.7 309.5 L452 307.5 L456.5 304.5 M476.5 268.5 L480 267 L482.5 263.5 M457 281.5 L462 282" fill="none" stroke="#c9cfe8" stroke-opacity="0.6" stroke-width="0.6"/><path d="M531.8 194.7L529.7 196.8L530.4 202.3L524.9 203.6L520.8 204.3L519.5 208.4L515.3 209.8L511.9 215.3L510.5 223.5L507.8 231.7L505.8 237.2L503.7 245.0L502.0 246.0L500.0 256.0L501.0 260.0L493.0 264.0L490.0 272.0L490.0 278.0L490.4 276.0L491.0 280.0L490.0 290.0L493.0 296.0L491.0 304.0L490.0 312.0L487.0 318.0L484.4 326.0 M531.8 194.7L536.6 198.8L542.1 203.6L546.2 208.4L548.2 215.3L550.3 223.5L552.3 229.7L555.1 234.5 M570.1 184.5L570.8 181.7L568.1 179.7L564.7 178.3L560.5 176.9L557.1 179.7L554.4 183.1L553.7 189.2L552.3 194.7L548.9 198.2L544.8 199.5L541.4 198.8L537.9 196.1L534.5 193.4L531.8 194.7" fill="none" stroke="#aab3e0" stroke-opacity="0.55" stroke-width="0.8"/><path d="M550.3 166.5L549.5 179.5M555.8 167.5L556.4 173.5M561.2 166.5L561.9 172M544.1 170L542.7 175.5M539.3 173L540.7 180M534 177.5L535.5 183M527.5 183L530 187.5M521 187L523.5 192" fill="none" stroke="#fff" stroke-opacity="0.9" stroke-width="0.9" stroke-linecap="round"/><ellipse cx="466.2" cy="351.6" rx="2.2" ry="0.8" fill="#fff" fill-opacity="0.85" stroke="none" transform="rotate(-15 466.2 351.6)"/><ellipse cx="462.6" cy="362.5" rx="0.7" ry="1.6" fill="#fff" fill-opacity="0.8" stroke="none"/><circle cx="481.3" cy="346.9" r="0.8" fill="#3f5fa9" stroke="none"/><circle cx="468.8" cy="531.5" r="0.9" fill="#a9d3e6" stroke="none"/><circle cx="550" cy="308" r="0.9" fill="#2f3892" stroke="none"/><circle cx="556.4" cy="307.6" r="0.9" fill="#2f3892" stroke="none"/>
</g>
<!--/MAP-->
</svg>
<div id="src" class="t">Source : <span class="lnk">OECD/European Commission report: Health at a Glance 2024</span></div>
</body>
</html>
